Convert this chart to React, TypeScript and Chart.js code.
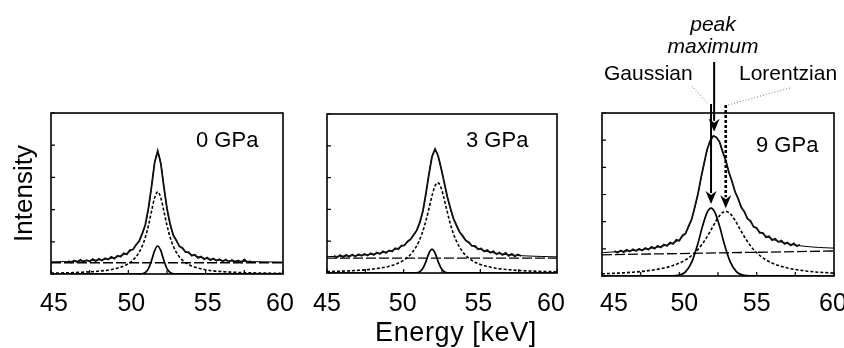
import React, { useEffect, useRef } from "react";
import { Chart, registerables } from "chart.js";

Chart.register(...registerables);

const FONT = '"Liberation Sans", Arial, Helvetica, sans-serif';

// ---------- shared axis data ----------
const xMin = 45;
const xMax = 60;
const xTickValues = [45, 47.5, 50, 52.5, 55, 57.5, 60];
const xTickLabels = [45, 50, 55, 60];
const yTicksLow = [0, 1, 2, 3, 4, 5];
const yTicksHigh = [0, 1, 2, 3, 4, 5, 6];
const pressureLabels = ["0 GPa", "3 GPa", "9 GPa"];
const yAxisTitle = "Intensity";
const xAxisTitle = "Energy [keV]";
const annotationPeak = ["peak", "maximum"];
const annotationGauss = "Gaussian";
const annotationLorentz = "Lorentzian";

// ---------- panel 1 : 0 GPa ----------
const p1DataX = [46.1, 46.3, 46.5, 46.7, 46.9, 47.1, 47.3, 47.5, 47.7, 47.9, 48.1, 48.3, 48.5, 48.7, 48.9, 49.1, 49.3, 49.5, 49.7, 49.9, 50.1, 50.3, 50.5, 50.7, 50.9, 51.1, 51.3, 51.5, 51.7, 51.9, 52.1, 52.3, 52.5, 52.7, 52.9, 53.1, 53.3, 53.5, 53.7, 53.9, 54.1, 54.3, 54.5, 54.7, 54.9, 55.1, 55.3, 55.5, 55.7, 55.9, 56.1, 56.3, 56.5, 56.7, 56.9, 57.1, 57.3, 57.5, 57.7, 57.9];
const p1DataY = [0.40, 0.36, 0.42, 0.37, 0.44, 0.38, 0.43, 0.39, 0.46, 0.40, 0.47, 0.42, 0.49, 0.45, 0.53, 0.48, 0.57, 0.54, 0.64, 0.61, 0.74, 0.76, 0.91, 1.02, 1.26, 1.53, 2.05, 2.71, 3.46, 3.82, 3.43, 2.70, 2.03, 1.56, 1.21, 1.05, 0.86, 0.81, 0.68, 0.68, 0.57, 0.60, 0.50, 0.54, 0.46, 0.51, 0.43, 0.48, 0.41, 0.46, 0.39, 0.45, 0.38, 0.43, 0.37, 0.42, 0.36, 0.45, 0.37, 0.40];
const p1FitX = [45, 46, 47, 48, 49, 49.9, 50.3, 50.7, 50.9, 51.1, 51.3, 51.5, 51.7, 51.9, 52.1, 52.3, 52.5, 52.7, 52.9, 53.1, 53.5, 53.9, 55, 56, 57, 58, 59, 60];
const p1FitY = [0.378, 0.387, 0.404, 0.434, 0.498, 0.643, 0.779, 1.025, 1.230, 1.537, 2.022, 2.716, 3.441, 3.770, 3.441, 2.716, 2.022, 1.537, 1.230, 1.025, 0.779, 0.643, 0.481, 0.426, 0.400, 0.385, 0.376, 0.370];
const p1LorY = [0.028, 0.037, 0.054, 0.084, 0.148, 0.293, 0.429, 0.675, 0.871, 1.141, 1.505, 1.949, 2.367, 2.550, 2.367, 1.949, 1.505, 1.141, 0.871, 0.675, 0.429, 0.293, 0.131, 0.076, 0.050, 0.035, 0.026, 0.020];
const p1GaussX = [45, 50.7, 50.9, 51.1, 51.3, 51.5, 51.7, 51.9, 52.1, 52.3, 52.5, 52.7, 52.9, 53.1, 60];
const p1GaussY = [0, 0.001, 0.009, 0.046, 0.167, 0.417, 0.724, 0.870, 0.724, 0.417, 0.167, 0.046, 0.009, 0.001, 0];
const p1BaseX = [45, 60];
const p1BaseY = [0.35, 0.35];

// ---------- panel 2 : 3 GPa ----------
const p2DataX = [45.45, 45.65, 45.85, 46.05, 46.25, 46.45, 46.65, 46.85, 47.05, 47.25, 47.45, 47.65, 47.85, 48.05, 48.25, 48.45, 48.65, 48.85, 49.05, 49.25, 49.45, 49.65, 49.85, 50.05, 50.25, 50.45, 50.65, 50.85, 51.05, 51.25, 51.45, 51.65, 51.85, 52.05, 52.25, 52.45, 52.65, 52.85, 53.05, 53.25, 53.45, 53.65, 53.85, 54.05, 54.25, 54.45, 54.65, 54.85, 55.05, 55.25, 55.45, 55.65, 55.85, 56.05, 56.25, 56.45, 56.65, 56.85, 57.05, 57.25, 57.45, 57.65];
const p2DataY = [0.54, 0.49, 0.56, 0.50, 0.57, 0.51, 0.58, 0.52, 0.59, 0.54, 0.60, 0.55, 0.62, 0.57, 0.64, 0.60, 0.68, 0.63, 0.71, 0.68, 0.78, 0.75, 0.86, 0.87, 0.99, 1.06, 1.20, 1.34, 1.59, 1.94, 2.50, 3.11, 3.66, 3.90, 3.68, 3.28, 2.84, 2.39, 2.04, 1.71, 1.50, 1.29, 1.17, 1.02, 0.97, 0.85, 0.85, 0.75, 0.77, 0.68, 0.72, 0.64, 0.68, 0.59, 0.64, 0.57, 0.63, 0.54, 0.60, 0.52, 0.58, 0.54];
const p2FitX = [45, 46, 47, 48, 49, 49.6, 50.0, 50.4, 50.8, 51.0, 51.2, 51.4, 51.6, 51.7, 51.8, 51.9, 52.0, 52.1, 52.2, 52.3, 52.4, 52.6, 52.8, 53.0, 53.2, 53.4, 53.8, 54.2, 54.6, 55, 56, 57, 58, 59, 60];
const p2FitY = [0.514, 0.528, 0.552, 0.594, 0.676, 0.770, 0.871, 1.028, 1.289, 1.498, 1.821, 2.318, 2.959, 3.276, 3.543, 3.732, 3.826, 3.823, 3.736, 3.584, 3.388, 2.937, 2.489, 2.094, 1.769, 1.515, 1.166, 0.956, 0.825, 0.739, 0.622, 0.567, 0.537, 0.519, 0.508];
const p2LorY = [0.044, 0.058, 0.082, 0.124, 0.206, 0.300, 0.401, 0.558, 0.814, 1.001, 1.243, 1.552, 1.926, 2.130, 2.332, 2.521, 2.680, 2.790, 2.839, 2.818, 2.731, 2.410, 2.007, 1.622, 1.299, 1.045, 0.696, 0.486, 0.355, 0.269, 0.152, 0.097, 0.067, 0.049, 0.038];
const p2GaussX = [45, 50.6, 50.8, 51.0, 51.2, 51.4, 51.6, 51.7, 51.85, 52.0, 52.1, 52.3, 52.5, 52.7, 52.9, 53.1, 60];
const p2GaussY = [0, 0.001, 0.005, 0.027, 0.108, 0.296, 0.563, 0.676, 0.750, 0.676, 0.563, 0.296, 0.108, 0.027, 0.005, 0.001, 0];
const p2BaseX = [45, 60];
const p2BaseY = [0.47, 0.47];

// ---------- panel 3 : 9 GPa ----------
const p3DataX = [45.8, 46.0, 46.2, 46.4, 46.6, 46.8, 47.0, 47.2, 47.4, 47.6, 47.8, 48.0, 48.2, 48.4, 48.6, 48.8, 49.0, 49.2, 49.4, 49.6, 49.8, 50.0, 50.2, 50.4, 50.6, 50.8, 51.0, 51.2, 51.4, 51.6, 51.8, 52.0, 52.2, 52.4, 52.6, 52.8, 53.0, 53.2, 53.4, 53.6, 53.8, 54.0, 54.2, 54.4, 54.6, 54.8, 55.0, 55.2, 55.4, 55.6, 55.8, 56.0, 56.2, 56.4, 56.6, 56.8, 57.0, 57.2, 57.4, 57.6, 57.8];
const p3DataY = [0.92, 0.86, 0.94, 0.88, 0.96, 0.90, 0.98, 0.92, 1.00, 0.94, 1.03, 0.97, 1.07, 1.01, 1.11, 1.05, 1.16, 1.11, 1.23, 1.18, 1.33, 1.30, 1.49, 1.56, 1.84, 2.09, 2.54, 3.01, 3.61, 4.14, 4.67, 4.97, 5.16, 5.10, 4.94, 4.57, 4.26, 3.82, 3.50, 3.10, 2.86, 2.53, 2.38, 2.11, 2.03, 1.81, 1.77, 1.59, 1.59, 1.43, 1.46, 1.32, 1.37, 1.25, 1.30, 1.18, 1.23, 1.13, 1.20, 1.10, 1.15];
const p3FitX = [45, 46, 47, 48, 49, 49.5, 50, 50.4, 50.8, 51.2, 51.5, 51.8, 52.0, 52.2, 52.4, 52.6, 52.8, 53.0, 53.3, 53.6, 54.0, 54.4, 54.8, 55.2, 55.6, 56, 57, 58, 59, 60];
const p3FitY = [0.861, 0.894, 0.939, 1.005, 1.111, 1.195, 1.337, 1.581, 2.098, 3.010, 3.867, 4.640, 4.988, 5.144, 5.108, 4.910, 4.600, 4.231, 3.655, 3.128, 2.565, 2.150, 1.849, 1.631, 1.474, 1.360, 1.186, 1.100, 1.051, 1.025];
const p3LorY = [0.081, 0.105, 0.140, 0.197, 0.293, 0.369, 0.476, 0.594, 0.755, 0.975, 1.190, 1.451, 1.648, 1.853, 2.052, 2.222, 2.338, 2.380, 2.288, 2.052, 1.648, 1.272, 0.975, 0.755, 0.594, 0.476, 0.293, 0.197, 0.140, 0.105];
const p3GaussX = [45, 49.5, 50.0, 50.4, 50.8, 51.2, 51.5, 51.8, 52.05, 52.3, 52.6, 52.9, 53.3, 53.7, 54.1, 54.6, 60];
const p3GaussY = [0, 0.003, 0.034, 0.155, 0.508, 1.196, 1.836, 2.345, 2.500, 2.345, 1.836, 1.196, 0.508, 0.155, 0.034, 0.003, 0];
const p3BaseX = [45, 60];
const p3BaseY = [0.78, 0.92];
// arrow targets (energy, intensity)
const p3PeakMax = [52.25, 5.16];
const p3GaussPeak = [52.05, 2.5];
const p3LorPeak = [53.0, 2.38];

const pts = (xs: number[], ys: number[]) => xs.map((x, i) => ({ x, y: ys[i] }));

type PanelCfg = {
  left: number;
  width: number;
  pad: { left: number; right: number; top: number; bottom: number };
  yMax: number;
  yTicks: number[];
  label: string;
  labelX: number;
  labelY: number;
  tickNudge: number[];
  dataX: number[];
  dataY: number[];
  fitX: number[];
  fitY: number[];
  lorY: number[];
  gaussX: number[];
  gaussY: number[];
  baseX: number[];
  baseY: number[];
  extra?: (ctx: CanvasRenderingContext2D, chart: any) => void;
};

function drawArrow(
  ctx: CanvasRenderingContext2D,
  x: number,
  y0: number,
  tip: number,
  width: number,
  dash: number[]
) {
  const headH = 13;
  const headW = 11;
  ctx.setLineDash(dash);
  ctx.lineWidth = width;
  ctx.beginPath();
  ctx.moveTo(x, y0);
  ctx.lineTo(x, tip - headH + 2);
  ctx.stroke();
  ctx.setLineDash([]);
  ctx.beginPath();
  ctx.moveTo(x - headW / 2, tip - headH);
  ctx.lineTo(x, tip - headH + 4);
  ctx.lineTo(x + headW / 2, tip - headH);
  ctx.lineTo(x, tip);
  ctx.closePath();
  ctx.fill();
}

const panels: PanelCfg[] = [
  {
    left: 0,
    width: 300,
    pad: { left: 51, right: 17, top: 113, bottom: 74 },
    yMax: 5,
    yTicks: yTicksLow,
    label: pressureLabels[0],
    labelX: 196,
    labelY: 147,
    tickNudge: [3, 3, 2, -3],
    dataX: p1DataX,
    dataY: p1DataY,
    fitX: p1FitX,
    fitY: p1FitY,
    lorY: p1LorY,
    gaussX: p1GaussX,
    gaussY: p1GaussY,
    baseX: p1BaseX,
    baseY: p1BaseY,
    extra: (ctx) => {
      ctx.save();
      ctx.font = `26px ${FONT}`;
      ctx.textAlign = "center";
      ctx.textBaseline = "alphabetic";
      ctx.translate(32, 193.5);
      ctx.rotate(-Math.PI / 2);
      ctx.fillText(yAxisTitle, 0, 0);
      ctx.restore();
    },
  },
  {
    left: 300,
    width: 280,
    pad: { left: 27, right: 23, top: 114, bottom: 75 },
    yMax: 5,
    yTicks: yTicksLow,
    label: pressureLabels[1],
    labelX: 166,
    labelY: 147,
    tickNudge: [0, -1, -2, -6],
    dataX: p2DataX,
    dataY: p2DataY,
    fitX: p2FitX,
    fitY: p2FitY,
    lorY: p2LorY,
    gaussX: p2GaussX,
    gaussY: p2GaussY,
    baseX: p2BaseX,
    baseY: p2BaseY,
    extra: (ctx) => {
      ctx.save();
      ctx.font = `27px ${FONT}`;
      (ctx as any).letterSpacing = "0.6px";
      ctx.textAlign = "center";
      ctx.textBaseline = "alphabetic";
      ctx.fillText(xAxisTitle, 156, 341);
      ctx.restore();
    },
  },
  {
    left: 580,
    width: 264,
    pad: { left: 22, right: 10, top: 113, bottom: 72 },
    yMax: 6,
    yTicks: yTicksHigh,
    label: pressureLabels[2],
    labelX: 176,
    labelY: 152,
    tickNudge: [12, 5, 0, -1],
    dataX: p3DataX,
    dataY: p3DataY,
    fitX: p3FitX,
    fitY: p3FitY,
    lorY: p3LorY,
    gaussX: p3GaussX,
    gaussY: p3GaussY,
    baseX: p3BaseX,
    baseY: p3BaseY,
    extra: (ctx, chart) => {
      const xs = chart.scales.x;
      const ys = chart.scales.y;
      const ca = chart.chartArea;
      const pmX = xs.getPixelForValue(p3PeakMax[0]);
      const gX = xs.getPixelForValue(p3GaussPeak[0]);
      const lX = xs.getPixelForValue(p3LorPeak[0]);
      ctx.save();
      ctx.fillStyle = "#000";
      ctx.strokeStyle = "#000";
      // texts
      ctx.textBaseline = "alphabetic";
      ctx.textAlign = "center";
      ctx.font = `italic 21px ${FONT}`;
      ctx.fillText(annotationPeak[0], 133, 31);
      ctx.fillText(annotationPeak[1], 133, 53);
      ctx.font = `21px ${FONT}`;
      ctx.textAlign = "left";
      ctx.fillText(annotationGauss, 24, 80);
      ctx.fillText(annotationLorentz, 159, 80);
      // leader lines
      ctx.strokeStyle = "#777";
      ctx.lineWidth = 1;
      ctx.setLineDash([1, 2]);
      ctx.beginPath();
      ctx.moveTo(112, 86);
      ctx.lineTo(gX - 3, ca.top - 9);
      ctx.moveTo(210, 88);
      ctx.lineTo(lX + 2, ca.top - 8);
      ctx.stroke();
      ctx.strokeStyle = "#000";
      // arrows
      drawArrow(ctx, pmX, 62, ys.getPixelForValue(p3PeakMax[1]) - 4, 2, []);
      drawArrow(ctx, gX, ca.top - 9, ys.getPixelForValue(p3GaussPeak[1]) - 4, 2, []);
      drawArrow(ctx, lX, ca.top - 8, ys.getPixelForValue(p3LorPeak[1]) - 3, 2.6, [3, 2]);
      ctx.restore();
    },
  },
];

function makeFramePlugin(cfg: PanelCfg) {
  return {
    id: "frameAndLabels",
    afterDatasetsDraw(chart: any) {
      const { ctx, chartArea: ca, scales } = chart;
      const xs = scales.x;
      const ys = scales.y;
      ctx.save();
      ctx.strokeStyle = "#000";
      ctx.fillStyle = "#000";
      ctx.setLineDash([]);
      ctx.lineWidth = 1.6;
      ctx.strokeRect(ca.left, ca.top, ca.right - ca.left, ca.bottom - ca.top);
      ctx.lineWidth = 1.2;
      ctx.beginPath();
      for (const v of xTickValues) {
        const px = xs.getPixelForValue(v);
        ctx.moveTo(px, ca.bottom);
        ctx.lineTo(px, ca.bottom - 4);
      }
      for (const v of cfg.yTicks) {
        const py = ys.getPixelForValue(v);
        ctx.moveTo(ca.left, py);
        ctx.lineTo(ca.left + 4, py);
      }
      ctx.stroke();
      ctx.font = `25px ${FONT}`;
      ctx.textAlign = "center";
      ctx.textBaseline = "alphabetic";
      xTickLabels.forEach((v, i) => {
        ctx.fillText(String(v), xs.getPixelForValue(v) + cfg.tickNudge[i], 311);
      });
      ctx.font = `22px ${FONT}`;
      ctx.textAlign = "left";
      ctx.fillText(cfg.label, cfg.labelX, cfg.labelY);
      ctx.restore();
      if (cfg.extra) cfg.extra(ctx, chart);
    },
  };
}

function Panel({ cfg }: { cfg: PanelCfg }) {
  const ref = useRef<HTMLCanvasElement>(null);
  useEffect(() => {
    const canvas = ref.current;
    if (!canvas) return;
    const common = { pointRadius: 0, pointHoverRadius: 0, fill: false };
    const chart = new Chart(canvas, {
      type: "line",
      data: {
        datasets: [
          {
            label: "measured",
            data: pts(cfg.dataX, cfg.dataY),
            borderColor: "#111",
            borderWidth: 1.8,
            tension: 0,
            ...common,
          },
          {
            label: "fit",
            data: pts(cfg.fitX, cfg.fitY),
            borderColor: "#000",
            borderWidth: 1,
            cubicInterpolationMode: "monotone",
            ...common,
          },
          {
            label: "Gaussian",
            data: pts(cfg.gaussX, cfg.gaussY),
            borderColor: "#000",
            borderWidth: 1.7,
            cubicInterpolationMode: "monotone",
            ...common,
          },
          {
            label: "Lorentzian",
            data: pts(cfg.fitX, cfg.lorY),
            borderColor: "#000",
            borderWidth: 1.6,
            borderDash: [3, 2],
            cubicInterpolationMode: "monotone",
            ...common,
          },
          {
            label: "background",
            data: pts(cfg.baseX, cfg.baseY),
            borderColor: "#000",
            borderWidth: 1.3,
            borderDash: [10, 3],
            tension: 0,
            ...common,
          },
        ],
      } as any,
      options: {
        animation: false,
        responsive: false,
        devicePixelRatio: 1,
        events: [],
        layout: { padding: cfg.pad },
        plugins: {
          legend: { display: false },
          tooltip: { enabled: false },
        },
        scales: {
          x: { type: "linear", min: xMin, max: xMax, display: false },
          y: { type: "linear", min: 0, max: cfg.yMax, display: false },
        },
      } as any,
      plugins: [makeFramePlugin(cfg)],
    });
    return () => chart.destroy();
  }, [cfg]);
  return (
    <div style={{ position: "absolute", left: cfg.left, top: 0, width: cfg.width, height: 348 }}>
      <canvas ref={ref} width={cfg.width} height={348} style={{ display: "block", width: cfg.width, height: 348 }} />
    </div>
  );
}

export default function App() {
  return (
    <div style={{ position: "absolute", left: 0, top: 0, width: 844, height: 348, background: "#fff", overflow: "hidden" }}>
      {panels.map((p, i) => (
        <Panel key={i} cfg={p} />
      ))}
    </div>
  );
}
